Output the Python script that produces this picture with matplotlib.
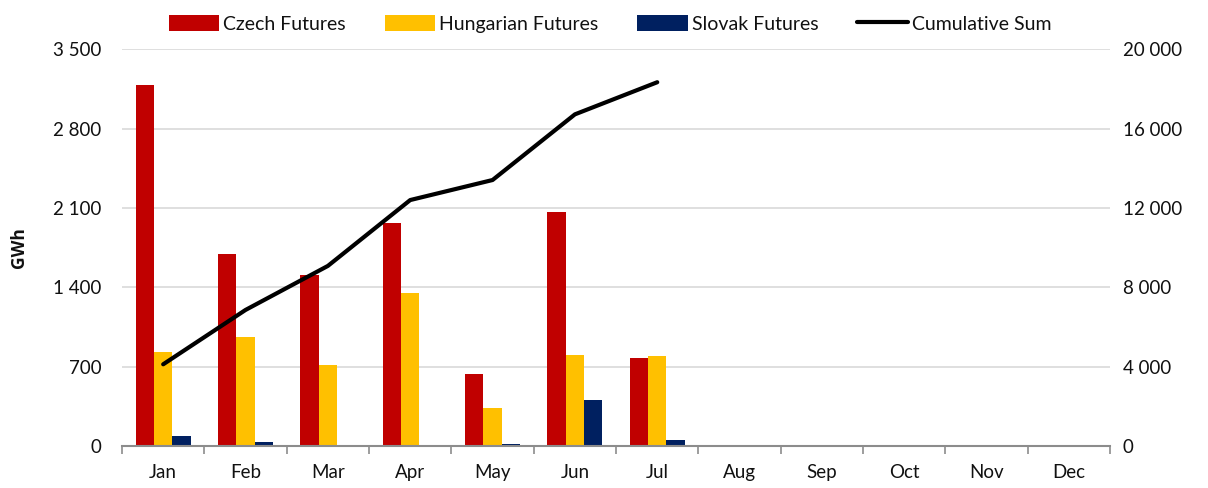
# Monthly traded volumes of futures with cumulative sum

import numpy as np
import matplotlib.pyplot as plt
from matplotlib.ticker import FuncFormatter

months = ['Jan', 'Feb', 'Mar', 'Apr', 'May', 'Jun', 'Jul', 'Aug', 'Sep', 'Oct', 'Nov', 'Dec']
# GWh, only Jan..Jul traded so far
czech = [3187, 1692, 1507, 1966, 636, 2068, 780, 0, 0, 0, 0, 0]
hungarian = [833, 962, 712, 1353, 335, 803, 797, 0, 0, 0, 0, 0]
slovak = [85, 33, 3, 0, 15, 403, 50, 0, 0, 0, 0, 0]
cumulative = [4120, 6860, 9080, 12400, 13410, 16720, 18340]

plt.rcParams['font.family'] = ['Lato', 'DejaVu Sans']
txt_col = '#111111'
grid_col = '#d9d9d9'
axis_col = '#8c8c8c'


def spaced(v, pos):
    return '{:,.0f}'.format(v).replace(',', ' ')


if __name__ == "__main__":
    fig = plt.figure(figsize=(12.08, 4.88), dpi=100)
    ax = fig.add_axes([0.101, 0.086, 0.818, 0.813])
    ax2 = ax.twinx()

    x = np.arange(len(months))
    w = 0.222
    b1 = ax.bar(x - w, czech, w, color='#C00000', label='Czech Futures', zorder=2)
    b2 = ax.bar(x, hungarian, w, color='#FFC000', label='Hungarian Futures', zorder=2)
    b3 = ax.bar(x + w, slovak, w, color='#002060', label='Slovak Futures', zorder=2)
    ln, = ax2.plot(x[:len(cumulative)], cumulative, color='black', lw=3,
                   solid_capstyle='round', solid_joinstyle='round', label='Cumulative Sum')

    ax.set_xlim(-0.5, 11.5)
    ax.set_ylim(0, 3500)
    ax.set_yticks(np.arange(0, 3501, 700))
    ax.yaxis.set_major_formatter(FuncFormatter(spaced))
    ax.grid(axis='y', color=grid_col, lw=1.2, zorder=0)
    ax.set_axisbelow(True)

    ax2.set_ylim(0, 20000)
    ax2.set_yticks(np.arange(0, 20001, 4000))
    ax2.yaxis.set_major_formatter(FuncFormatter(spaced))

    # ticks between categories, labels at centres
    ax.set_xticks(np.arange(-0.5, 12, 1))
    ax.set_xticklabels([])
    ax.set_xticks(x, minor=True)
    ax.set_xticklabels(months, minor=True)
    ax.tick_params(axis='x', which='major', length=6, width=1.2, color=axis_col, direction='out')
    ax.tick_params(axis='x', which='minor', length=0, pad=13, labelsize=13.5, labelcolor=txt_col)
    ax.tick_params(axis='y', length=0, pad=15, labelsize=13.5, labelcolor=txt_col)
    ax2.tick_params(axis='y', length=0, pad=9, labelsize=13.5, labelcolor=txt_col)

    for a in (ax, ax2):
        for s in ('top', 'left', 'right', 'bottom'):
            a.spines[s].set_visible(False)
    ax.spines['bottom'].set_visible(True)
    ax.spines['bottom'].set_color(axis_col)
    ax.spines['bottom'].set_linewidth(1.5)

    ax.set_ylabel('GWh', fontsize=12.5, fontweight='bold', family=['Open Sans', 'DejaVu Sans'],
                  color=txt_col, labelpad=18)

    fig.legend(handles=[b1, b2, b3, ln], loc='upper center', bbox_to_anchor=(0.505, 1.005),
               ncol=4, frameon=False, fontsize=14, handlelength=2.6, handleheight=0.9,
               handletextpad=0.2, columnspacing=2.0, labelcolor=txt_col)

    fig.savefig('out.png', dpi=100)
